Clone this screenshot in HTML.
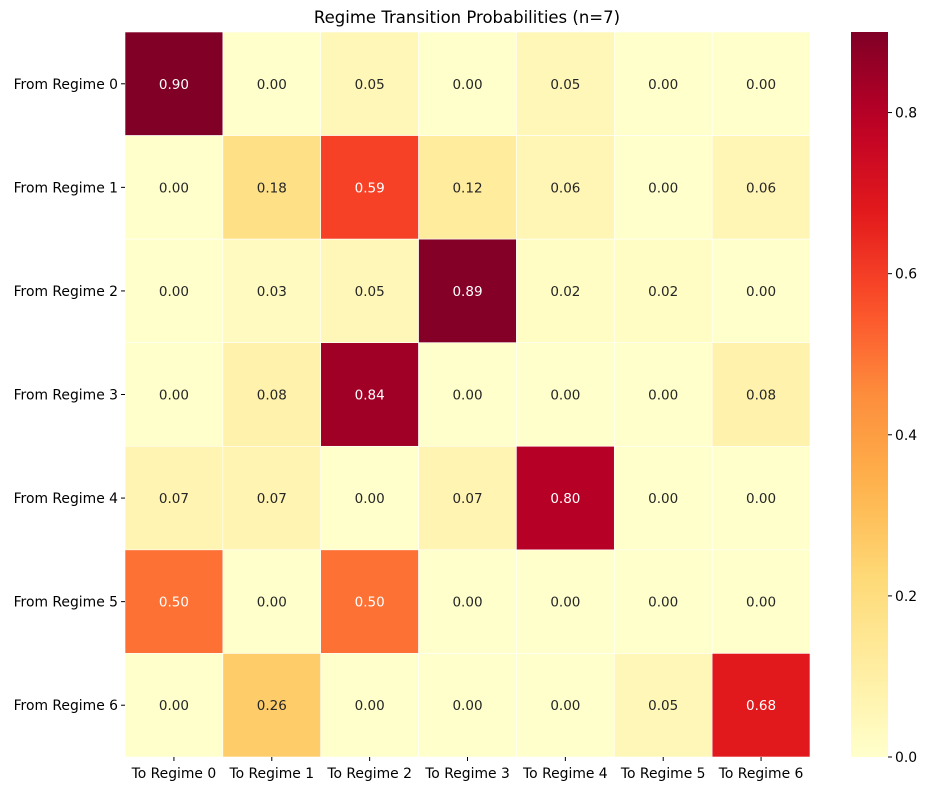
<!DOCTYPE html>
<html><head><meta charset="utf-8"><style>
body{margin:0;background:#fff;font-family:"DejaVu Sans","Liberation Sans",sans-serif;}
svg text{font-family:"DejaVu Sans","Liberation Sans",sans-serif;}
</style></head><body>
<svg id="chart" width="929" height="790" xmlns="http://www.w3.org/2000/svg">
<defs><linearGradient id="cbg" x1="0" y1="1" x2="0" y2="0"></linearGradient></defs>
<text x="467" y="23" text-anchor="middle" font-size="16.5" fill="#000">Regime Transition Probabilities (n=7)</text>
<g id="cells"></g><g id="labels"></g><g id="cbar"></g>
</svg>
<script>
const rowLabels=["From Regime 0","From Regime 1","From Regime 2","From Regime 3","From Regime 4","From Regime 5","From Regime 6"];
const colLabels=["To Regime 0","To Regime 1","To Regime 2","To Regime 3","To Regime 4","To Regime 5","To Regime 6"];
const values=[
[0.90,0.00,0.05,0.00,0.05,0.00,0.00],
[0.00,0.18,0.59,0.12,0.06,0.00,0.06],
[0.00,0.03,0.05,0.89,0.02,0.02,0.00],
[0.00,0.08,0.84,0.00,0.00,0.00,0.08],
[0.07,0.07,0.00,0.07,0.80,0.00,0.00],
[0.50,0.00,0.50,0.00,0.00,0.00,0.00],
[0.00,0.26,0.00,0.00,0.00,0.05,0.68]];
const cbTicks=[0.0,0.2,0.4,0.6,0.8];
const vmin=0,vmax=0.9;
const NS="http://www.w3.org/2000/svg";
const X0=125,X1=810,Y0=32,Y1=757;
const cw=(X1-X0)/colLabels.length,ch=(Y1-Y0)/rowLabels.length;
const stops=["#ffffcc","#ffeda0","#fed976","#feb24c","#fd8d3c","#fc4e2a","#e31a1c","#bd0026","#800026"].map(h=>[1,3,5].map(i=>parseInt(h.substr(i,2),16)));
function cmap(v){let t=Math.max(0,Math.min(1,(v-vmin)/(vmax-vmin)))*(stops.length-1);let i=Math.min(Math.floor(t),stops.length-2),f=t-i;
return stops[i].map((c,k)=>Math.round(c+(stops[i+1][k]-c)*f));}
function lum(c){const l=c.map(x=>{x/=255;return x<=0.03928?x/12.92:Math.pow((x+0.055)/1.055,2.4)});return 0.2126*l[0]+0.7152*l[1]+0.0722*l[2];}
function mk(t,a,p){const e=document.createElementNS(NS,t);for(const k in a)e.setAttribute(k,a[k]);p.appendChild(e);return e;}
const cells=document.getElementById('cells'),labels=document.getElementById('labels'),cb=document.getElementById('cbar');
values.forEach((row,r)=>row.forEach((v,c)=>{
const col=cmap(v);
const rc=mk('rect',{x:X0+c*cw,y:Y0+r*ch,width:cw,height:ch,fill:`rgb(${col})`,stroke:'#fff','stroke-width':0.6},cells);


const t=mk('text',{x:X0+(c+.5)*cw,y:Y0+(r+.5)*ch+5,'text-anchor':'middle','font-size':13.5,fill:lum(col)>0.408?'#262626':'#fff'},cells);


t.textContent=v.toFixed(2);
}));
rowLabels.forEach((l,r)=>{const y=Y0+(r+.5)*ch;
mk('line',{x1:X0-4,x2:X0,y1:y,y2:y,stroke:'#000'},labels);
const t=mk('text',{x:X0-7,y:y+5,'text-anchor':'end','font-size':13.9},labels);


t.textContent=l;});
colLabels.forEach((l,c)=>{const x=X0+(c+.5)*cw;
mk('line',{x1:x,x2:x,y1:Y1,y2:Y1+4,stroke:'#000'},labels);
const t=mk('text',{x:x,y:Y1+21,'text-anchor':'middle','font-size':13.9},labels);


t.textContent=l;});
const g=document.getElementById('cbg');
for(let i=0;i<=20;i++){const v=vmin+(vmax-vmin)*i/20;mk('stop',{offset:i/20,'stop-color':`rgb(${cmap(v)})`},g);}
const CX=851,CW=37;
const bar=mk('rect',{x:CX,y:Y0,width:CW,height:Y1-Y0,fill:'url(#cbg)'},cb);


const cy=v=>Y1-(v-vmin)/(vmax-vmin)*(Y1-Y0);
cbTicks.forEach(v=>{const y=cy(v);
mk('line',{x1:CX+CW,x2:CX+CW+4,y1:y,y2:y,stroke:'#000'},cb);
const t=mk('text',{x:CX+CW+7,y:y+5,'font-size':13.9},cb);


t.textContent=v.toFixed(1);});
</script>
</body></html>
